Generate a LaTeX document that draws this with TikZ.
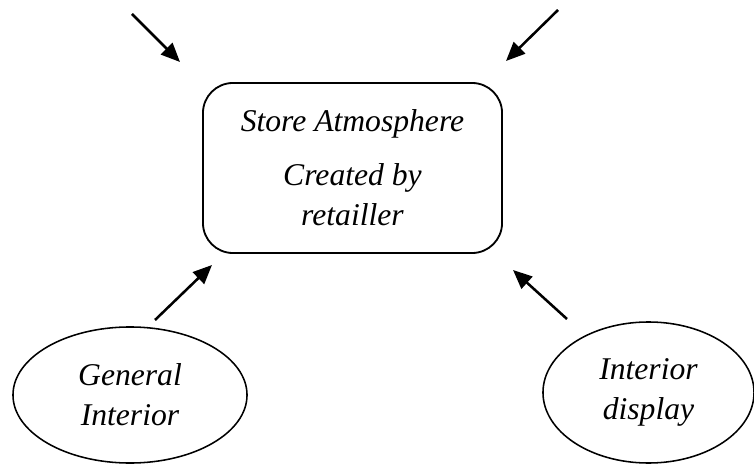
\documentclass[tikz,border=0pt]{standalone}
\usepackage{fontspec}
\setmainfont{Liberation Serif}
\usetikzlibrary{shapes.geometric,arrows.meta}

\tikzset{
  atmosbox/.style={draw, line width=1.3pt, rounded corners=0.75cm, minimum width=7.475cm, minimum height=4.25cm, align=center, inner sep=0pt},
  factor/.style={draw, ellipse, line width=1.1pt, align=center, inner sep=0pt},
  influence/.style={-{Triangle[length=13.5pt,width=11.5pt]}, line width=1.8pt}
}

\begin{document}
\begin{tikzpicture}[x=0.025cm, y=-0.025cm, font=\fontsize{22.5}{28.4}\selectfont\itshape]
				\useasboundingbox (0,0) rectangle (754,465);
				% central box
				\node[atmosbox] (atmos) at (352.5,168) {Store Atmosphere\\[10pt]Created by\\retailler};
				% ellipses below
				\node[factor, minimum width=5.85cm, minimum height=3.4cm] (general) at (130,395) {General\\Interior};
				\node[factor, minimum width=5.275cm, minimum height=3.525cm] (display) at (648.5,392.5) {Interior\\display};
				% arrow ends
				\coordinate (tlTail) at (132,14);
				\coordinate (tlTip) at (180,62);
				\coordinate (trTail) at (558,10);
				\coordinate (trTip) at (506,61);
				\coordinate (blTail) at (155,320);
				\coordinate (blTip) at (212,265);
				\coordinate (brTail) at (567,319);
				\coordinate (brTip) at (513,270);
				\draw[influence] (tlTail) -- (tlTip);
				\draw[influence] (trTail) -- (trTip);
				\draw[influence] (blTail) -- (blTip);
				\draw[influence] (brTail) -- (brTip);
			\end{tikzpicture}
\end{document}
